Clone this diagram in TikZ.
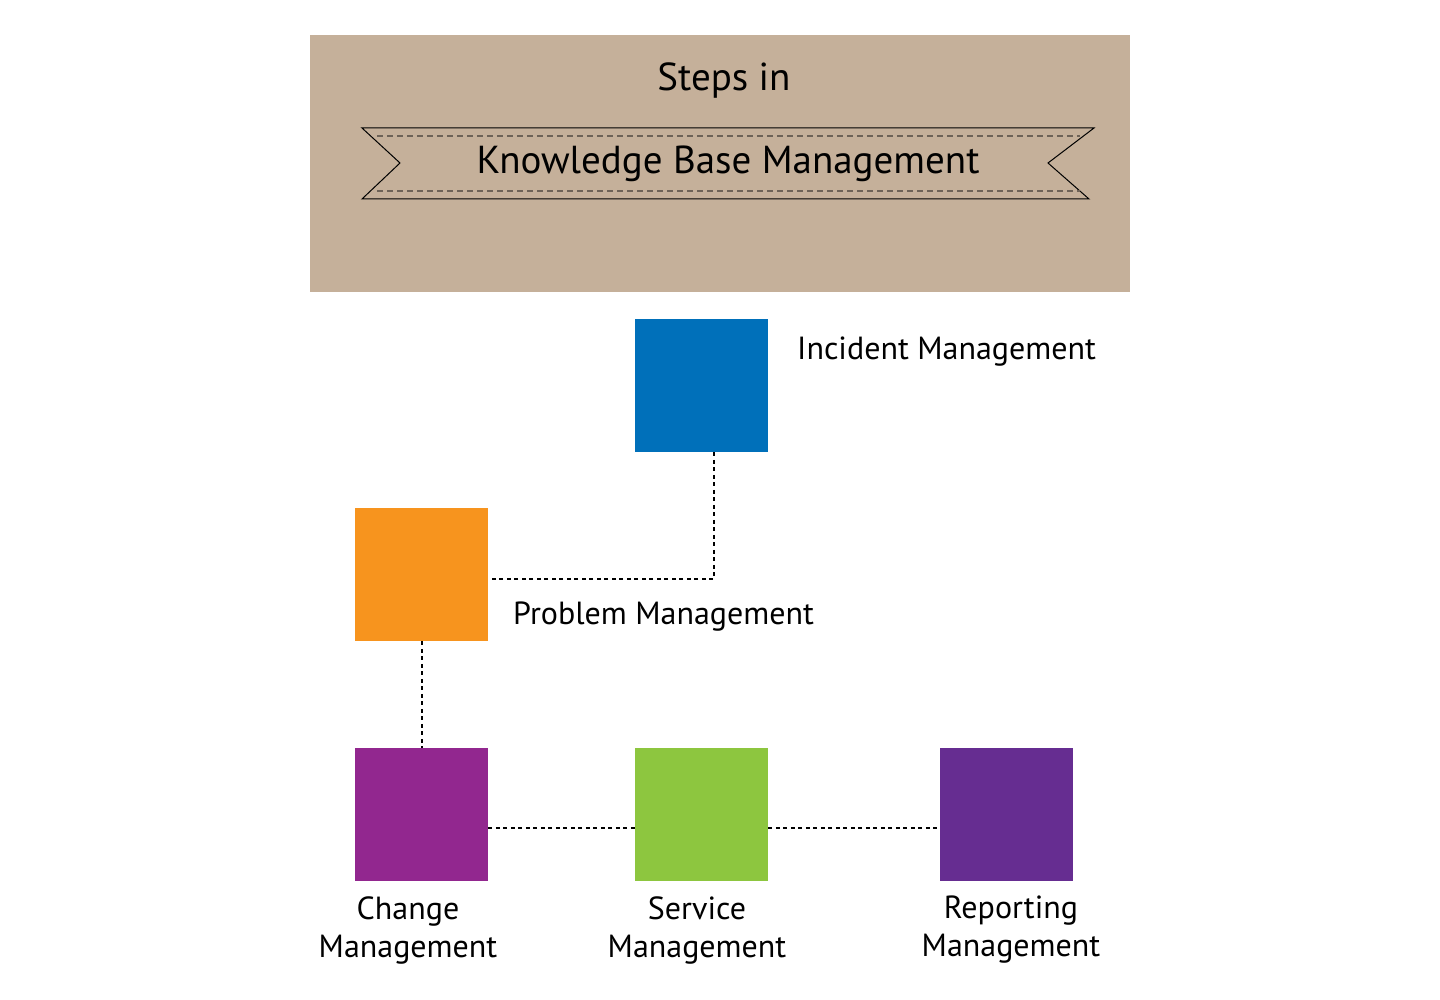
\documentclass[tikz,border=0pt]{standalone}
\usepackage{fontspec}
\setmainfont{PT Sans}
\usetikzlibrary{calc}
\definecolor{bgtan}{HTML}{C5B09A}
\definecolor{dashgray}{HTML}{6D6257}
\definecolor{cblue}{HTML}{0070BA}
\definecolor{corange}{HTML}{F7941E}
\definecolor{cpurple}{HTML}{92278F}
\definecolor{cgreen}{HTML}{8DC63F}
\definecolor{cviolet}{HTML}{662D91}
\begin{document}
\begin{tikzpicture}[x=1pt,y=-1pt,
  sq/.style={draw=none,minimum width=133pt,minimum height=133pt,inner sep=0pt,anchor=north west},
  lbl/.style={font=\fontsize{32}{38}\selectfont,inner sep=0pt},
  conn/.style={draw=black,line width=1.6pt,dash pattern=on 4pt off 3.5pt}]
\useasboundingbox (0,0) rectangle (1440,1000);
% title block
\fill[bgtan] (310,35) rectangle (1130,292);
\draw[line width=1pt] (362,128) -- (1094,128) -- (1048,163) -- (1089,199) -- (362,199) -- (400,163) -- cycle;
\draw[dashgray,line width=1.5pt,dash pattern=on 6pt off 4pt] (377,136) -- (1080,136);
\draw[dashgray,line width=1.5pt,dash pattern=on 6pt off 4pt] (377,191) -- (1080,191);
\node[lbl,font=\fontsize{39}{46}\selectfont] (t1) at (724,81) {Steps in};
\node[lbl,font=\fontsize{39}{46}\selectfont] (t2) at (728,164) {Knowledge Base Management};
% squares
\node[sq,fill=cblue] (inc) at (635,319) {};
\node[sq,fill=corange] (prob) at (355,508) {};
\node[sq,fill=cpurple] (chg) at (355,748) {};
\node[sq,fill=cgreen] (svc) at (635,748) {};
\node[sq,fill=cviolet] (rep) at (940,748) {};
% connectors
\coordinate (incb) at ($(inc.south)+(12,0)$);
\coordinate (probe) at ($(prob.east)+(0,4.5)$);
\draw[conn] (incb) |- (probe);
\draw[conn] (prob.south) -- (chg.north);
\coordinate (chge) at ($(chg.east)+(0,13)$);
\draw[conn] (chge) -- (chge -| svc.west);
\coordinate (svce) at ($(svc.east)+(0,13)$);
\draw[conn] (svce) -- (svce -| rep.west);
% labels
\node[lbl,anchor=west] (linc) at (797,352) {Incident Management};
\node[lbl,anchor=west] (lprob) at (513,617) {Problem Management};
\node[lbl,align=center] (lchg) at (408,930) {Change\\Management};
\node[lbl,align=center] (lsvc) at (697,930) {Service\\Management};
\node[lbl,align=center] (lrep) at (1011,930) {Reporting\\Management};
\end{tikzpicture}
\end{document}
